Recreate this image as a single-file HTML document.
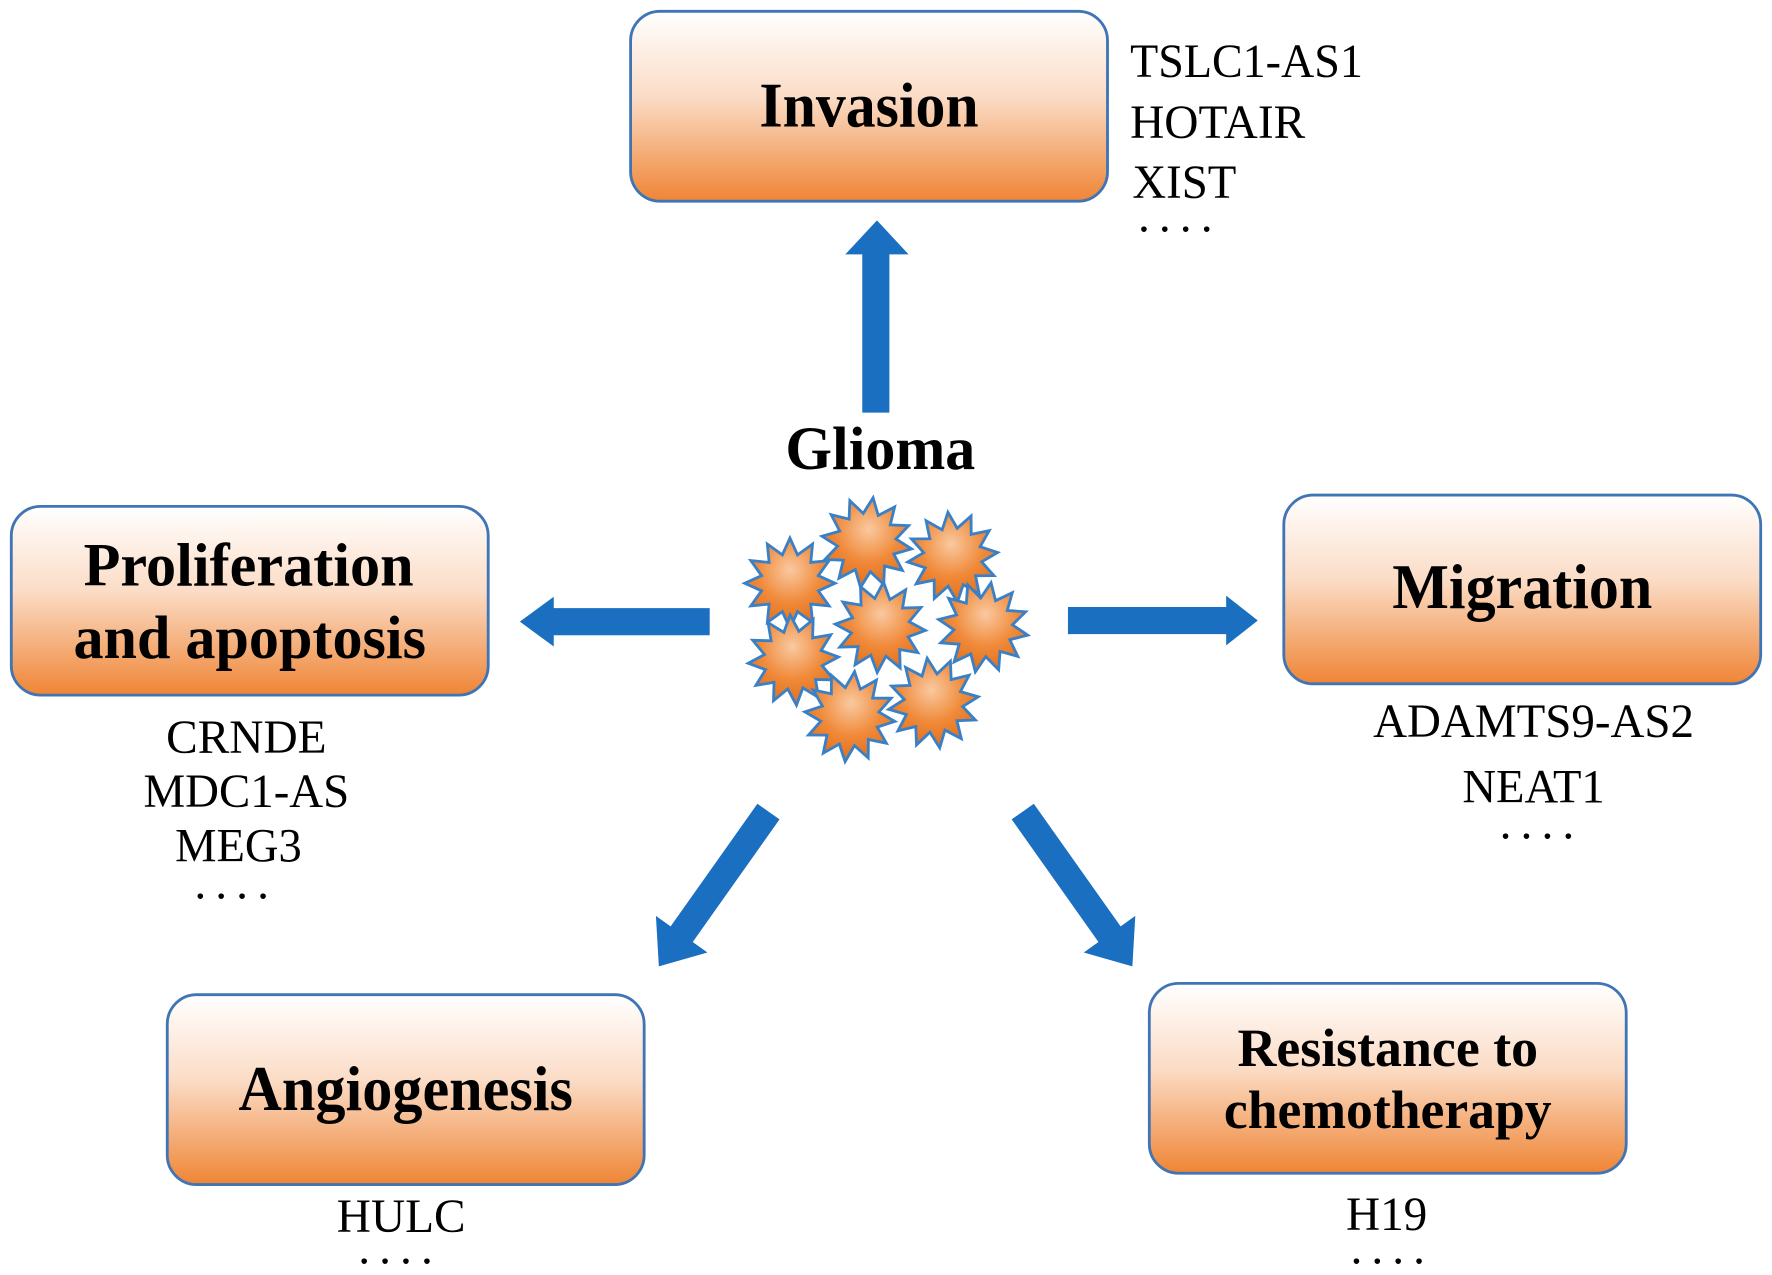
<!DOCTYPE html>
<html><head><meta charset="utf-8"><style>html,body{margin:0;padding:0;background:#fff}svg{display:block}</style></head>
<body>
<svg width="1772" height="1275" viewBox="0 0 1568 1128" preserveAspectRatio="none" xmlns="http://www.w3.org/2000/svg" font-family="'Liberation Serif', serif">
<defs>
<linearGradient id="bg" x1="0" y1="0" x2="0" y2="1">
<stop offset="0" stop-color="#ffffff"/><stop offset="0.45" stop-color="#fbdcc6"/><stop offset="1" stop-color="#ef8535"/>
</linearGradient>
<radialGradient id="sg" cx="0.5" cy="0.35" r="0.6">
<stop offset="0" stop-color="#f9c9a0"/><stop offset="0.6" stop-color="#f08a3a"/><stop offset="1" stop-color="#e5731f"/>
</radialGradient>
<polygon id="st" points="40,0 25.1,6.7 34.6,20 18.4,18.4 20,34.6 6.7,25.1 0,40 -6.7,25.1 -20,34.6 -18.4,18.4 -34.6,20 -25.1,6.7 -40,0 -25.1,-6.7 -34.6,-20 -18.4,-18.4 -20,-34.6 -6.7,-25.1 0,-40 6.7,-25.1 20,-34.6 18.4,-18.4 34.6,-20 25.1,-6.7" fill="url(#sg)" stroke="#3a80c6" stroke-width="2.5" stroke-linejoin="miter"/>
</defs>
<g stroke="#3f74b5" stroke-width="2.5" fill="url(#bg)">
<rect x="558" y="10" width="422" height="168" rx="26"/>
<rect x="10" y="448" width="422" height="167" rx="26"/>
<rect x="1136" y="438" width="422" height="167" rx="26"/>
<rect x="148" y="880" width="422" height="168" rx="26"/>
<rect x="1017" y="870" width="422" height="168" rx="26"/>
</g>
<g font-weight="bold" fill="#000" text-anchor="middle" lengthAdjust="spacingAndGlyphs">
<text x="769" y="112" font-size="56" textLength="194" lengthAdjust="spacingAndGlyphs">Invasion</text>
<text x="220" y="518" font-size="54" textLength="292" lengthAdjust="spacingAndGlyphs">Proliferation</text>
<text x="221" y="582" font-size="54" textLength="312" lengthAdjust="spacingAndGlyphs">and apoptosis</text>
<text x="1347" y="538" font-size="56" textLength="230" lengthAdjust="spacingAndGlyphs">Migration</text>
<text x="359" y="982" font-size="56" textLength="296" lengthAdjust="spacingAndGlyphs">Angiogenesis</text>
<text x="1228" y="943" font-size="48" textLength="266" lengthAdjust="spacingAndGlyphs">Resistance to</text>
<text x="1228" y="998" font-size="48" textLength="290" lengthAdjust="spacingAndGlyphs">chemotherapy</text>
<text x="779" y="415" font-size="54" textLength="168" lengthAdjust="spacingAndGlyphs">Glioma</text>
</g>
<g font-size="42" fill="#000">
<text x="1000" y="68" textLength="206" lengthAdjust="spacingAndGlyphs">TSLC1-AS1</text>
<text x="1000" y="122" textLength="155" lengthAdjust="spacingAndGlyphs">HOTAIR</text>
<text x="1002" y="175" textLength="92" lengthAdjust="spacingAndGlyphs">XIST</text>
<text x="1007" y="205" letter-spacing="8">....</text>
</g>
<g font-size="42" fill="#000" text-anchor="middle">
<text x="218" y="666" textLength="142" lengthAdjust="spacingAndGlyphs">CRNDE</text>
<text x="218" y="714" textLength="182" lengthAdjust="spacingAndGlyphs">MDC1-AS</text>
<text x="211" y="762" textLength="112" lengthAdjust="spacingAndGlyphs">MEG3</text>
<text x="209" y="795" letter-spacing="8">....</text>
<text x="1357" y="652" textLength="284" lengthAdjust="spacingAndGlyphs">ADAMTS9-AS2</text>
<text x="1357" y="710" textLength="126" lengthAdjust="spacingAndGlyphs">NEAT1</text>
<text x="1364" y="742" letter-spacing="8">....</text>
<text x="355" y="1090" textLength="114" lengthAdjust="spacingAndGlyphs">HULC</text>
<text x="354" y="1118" letter-spacing="8">....</text>
<text x="1227" y="1088" textLength="72" lengthAdjust="spacingAndGlyphs">H19</text>
<text x="1232" y="1118" letter-spacing="8">....</text>
</g>
<g fill="#1a6fc0">
<polygon points="763,365 787,365 787,225 804,225 776,195 748,225 763,225"/>
<polygon points="628,538 628,562 490,562 490,572 460,550 490,528 490,538"/>
<polygon points="945,537 945,561 1085,561 1085,571 1113,549 1085,527 1085,537"/>
<polygon points="670.2,711.1 689.8,724.9 613,833.4 626,842.7 583,855 580.4,810.3 593.4,819.6"/>
<polygon points="914.8,711.1 895.2,724.9 972,833.4 959,842.7 1002,855 1004.6,810.3 991.6,819.6"/>
</g>
<g>
<use href="#st" transform="translate(699,516)"/>
<use href="#st" transform="translate(767,480) rotate(8)"/>
<use href="#st" transform="translate(843,493) rotate(-6)"/>
<use href="#st" transform="translate(779,555) rotate(4)"/>
<use href="#st" transform="translate(870,555) rotate(10)"/>
<use href="#st" transform="translate(702,584) rotate(-4)"/>
<use href="#st" transform="translate(752,634) rotate(6)"/>
<use href="#st" transform="translate(826,622) rotate(-8)"/>
</g>
</svg>
</body></html>
